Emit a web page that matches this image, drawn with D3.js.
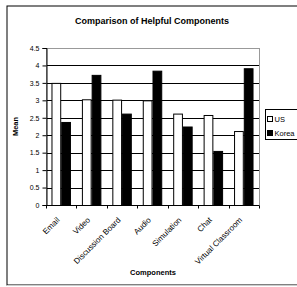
<!DOCTYPE html>
<html>
<head>
<meta charset="utf-8">
<script src="https://cdn.jsdelivr.net/npm/d3@7"></script>
<style>
  body { margin: 0; background: #fff; }
  svg { font-family: 'Liberation Sans', Arial, sans-serif; }
</style>
</head>
<body>
<svg id="chart" width="297" height="287"></svg>
<script>
const categories = ['Email', 'Video', 'Discussion Board', 'Audio', 'Simulation', 'Chat', 'Virtual Classroom']
const series = ['US', 'Korea']
const usValues = [3.5, 3.03, 3.02, 3.0, 2.62, 2.58, 2.12]
const koreaValues = [2.38, 3.73, 2.62, 3.85, 2.25, 1.55, 3.92]
const yTicks = [0, 0.5, 1, 1.5, 2, 2.5, 3, 3.5, 4, 4.5]

const colors = { US: '#fff', Korea: '#000' }
const margin = { top: 48, left: 46, right: 38, bottom: 82 }
const width = 297 - margin.left - margin.right
const height = 287 - margin.top - margin.bottom

const svg = d3.select('#chart')

// outer frame
svg.append('rect')
  .attr('x', 7).attr('y', 6).attr('width', 296).attr('height', 279)
  .attr('fill', 'none').attr('stroke', '#000').attr('stroke-width', 1)
svg.append('line')
  .attr('x1', 7).attr('x2', 297).attr('y1', 285.5).attr('y2', 285.5)
  .attr('stroke', '#ccc')

svg.append('text')
  .text('Comparison of Helpful Components')
  .attr('x', 152).attr('y', 24)
  .attr('text-anchor', 'middle')
  .attr('font-size', 9).attr('font-weight', 'bold')

const g = svg.append('g')
  .attr('transform', 'translate(' + margin.left + ',' + margin.top + ')')

const x = d3.scaleBand().domain(categories).range([0, width]).paddingInner(0.36).paddingOuter(0.18)
const xs = d3.scaleBand().domain(series).range([0, x.bandwidth()])
const y = d3.scaleLinear().domain([0, 4.5]).range([height, 0])

// gridlines
g.selectAll('.grid')
  .data(yTicks.slice(1))
  .enter()
  .append('line')
  .attr('x1', 0).attr('x2', width)
  .attr('y1', d => Math.round(y(d)) + 0.5).attr('y2', d => Math.round(y(d)) + 0.5)
  .attr('stroke', '#000').attr('stroke-width', 1)

g.append('rect')
  .attr('x', 0.5).attr('y', 0.5).attr('width', width).attr('height', height)
  .attr('fill', 'none').attr('stroke', '#999')

const rows = categories.map((c, i) => ({ cat: c, US: usValues[i], Korea: koreaValues[i] }))

g.selectAll('.cat')
  .data(rows)
  .enter()
  .append('g')
  .attr('transform', d => 'translate(' + x(d.cat) + ',0)')
  .each(function(d) {
    d3.select(this).selectAll('rect')
      .data(series.map(s => ({ s: s, v: d[s] })))
      .enter()
      .append('rect')
      .attr('x', b => xs(b.s) + 0.5)
      .attr('y', b => y(b.v) + 0.5)
      .attr('width', xs.bandwidth() - 1)
      .attr('height', b => height - y(b.v))
      .attr('fill', b => colors[b.s])
      .attr('stroke', '#000')
      .attr('stroke-width', 1)
  })

// y axis
const yAxis = g.append('g')
  .attr('transform', 'translate(0.5,0)')
  .call(d3.axisLeft(y).tickValues(yTicks).tickSize(4).tickFormat(d3.format('')))
yAxis.select('.domain').attr('stroke', '#000')
yAxis.selectAll('text').attr('font-size', 7).attr('font-family', 'Liberation Sans, Arial')

// x axis
const xAxis = g.append('g')
  .attr('transform', 'translate(0,' + (height + 0.5) + ')')
xAxis.append('line').attr('x1', 0).attr('x2', width).attr('stroke', '#000')
const xTickPos = d3.range(categories.length + 1).map(i => i * width / categories.length)
xAxis.selectAll('.xt')
  .data(xTickPos)
  .enter()
  .append('line')
  .attr('x1', d => Math.round(d) + 0.5).attr('x2', d => Math.round(d) + 0.5)
  .attr('y1', 0).attr('y2', 3)
  .attr('stroke', '#000')
xAxis.selectAll('.xl')
  .data(categories)
  .enter()
  .append('text')
  .text(d => d)
  .attr('text-anchor', 'end')
  .attr('font-size', 8)
  .attr('transform', d => 'translate(' + (x(d) + x.bandwidth() / 2 - 1) + ',15) rotate(-45)')

svg.append('text')
  .text('Components')
  .attr('x', 153).attr('y', 275)
  .attr('text-anchor', 'middle')
  .attr('font-size', 7.5).attr('font-weight', 'bold')

svg.append('text')
  .text('Mean')
  .attr('transform', 'translate(18,' + (margin.top + height / 2) + ') rotate(-90)')
  .attr('text-anchor', 'middle')
  .attr('font-size', 7.5).attr('font-weight', 'bold')

// legend
const legend = svg.append('g').attr('transform', 'translate(265.5,109.5)')
legend.append('rect')
  .attr('width', 40).attr('height', 30)
  .attr('fill', '#fff').attr('stroke', '#000')
series.forEach((s, i) => {
  legend.append('rect')
    .attr('x', 2).attr('y', 7 + i * 14).attr('width', 5).attr('height', 5)
    .attr('fill', colors[s]).attr('stroke', '#000')
  legend.append('text')
    .text(s)
    .attr('x', 9).attr('y', 12.5 + i * 14)
    .attr('font-size', 7.5)
})
</script>
</body>
</html>
